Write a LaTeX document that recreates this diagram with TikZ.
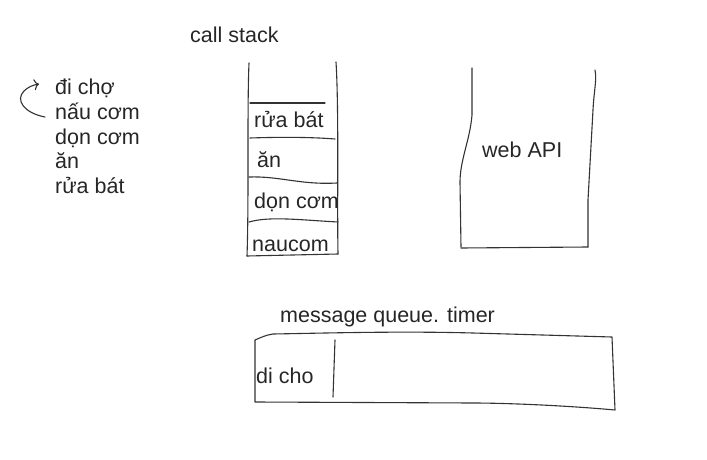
\documentclass[tikz,border=0pt]{standalone}
\usepackage{fontspec}
\setmainfont{Liberation Sans}
\usepackage{tikz}
\usetikzlibrary{arrows, arrows.meta, positioning}
\tikzstyle{net} = [draw = black!80, line width = 1.1pt, line cap = round, line join = round]
\tikzstyle{chu} = [anchor = base west, inner sep = 0pt, text = black!85, font = \fontsize{21.5}{25}\selectfont]

\begin{document}
\begin{tikzpicture}[x = 1pt, y = -1pt]
\useasboundingbox (0,0) rectangle (707,460) ;

% list on the left
\node (l1) [chu] at (55,95) {đi chợ} ;
\node (l2) [chu] at (55,119.5) {nấu cơm} ;
\node (l3) [chu] at (55,144) {dọn cơm} ;
\node (l4) [chu] at (55,168.5) {ăn} ;
\node (l5) [chu] at (55,193) {rửa bát} ;
\coordinate (dau) at (45,117) ;
\coordinate (cuoi) at (39,84) ;
\draw[net, -{To[length=5pt, width=11pt]}] (dau) .. controls (24,113) and (15,100) .. (24,91) .. controls (28,87) and (33,85) .. (cuoi) ;

% call stack
\node (cs) [chu] at (190,43) {call stack} ;
\draw[net] (249,63) .. controls (247,110) and (249,200) .. (247,256) ;
\draw[net] (336,62) .. controls (339,110) and (337,200) .. (338,254) ;
\draw[net] (247,256) -- (338,254) ;
\draw[net] (250,103) -- (325,103) ;
\draw[net] (250,138) .. controls (280,137) and (310,137) .. (335,139) ;
\draw[net] (249,177) .. controls (280,176) and (300,185) .. (337,183) ;
\draw[net] (249,222) .. controls (270,216) and (300,220) .. (338,222) ;
\node (s1) [chu] at (254,127) {rửa bát} ;
\node (s2) [chu] at (257,167) {ăn} ;
\node (s3) [chu] at (254,208) {dọn cơm} ;
\node (s4) [chu] at (252,251) {naucom} ;

% web API
\draw[net] (472,68) -- (472,115) .. controls (470,140) and (460,160) .. (460,182) -- (461,247) ;
\draw[net] (595,70) .. controls (597,80) and (594,90) .. (593,110) -- (588,200) -- (588,247) ;
\draw[net] (461,248) -- (588,247) ;
\node (api) [chu] at (482,157) {web API} ;

% message queue
\node (mq) [chu] at (280,322) {message queue. timer} ;
\draw[net] (255,340) .. controls (262,337) and (266,335) .. (273,334) .. controls (330,333) and (400,331) .. (473,333) -- (612,337) -- (615,410) .. controls (560,405) and (500,403) .. (473,403) -- (255,402) -- cycle ;
\draw[net] (335,340) -- (333,397) ;
\node (q1) [chu] at (256,383) {di cho} ;
\end{tikzpicture}
\end{document}
